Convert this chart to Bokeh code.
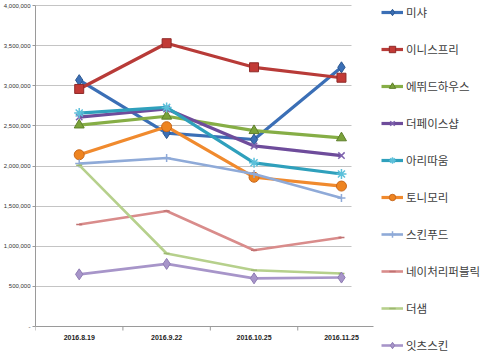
import math
from bokeh.plotting import figure
from bokeh.models import Range1d, FixedTicker, NumeralTickFormatter, Legend, LegendItem, Grid
from bokeh.core.properties import value
from bokeh.embed import file_html
from bokeh.resources import INLINE

dates = ["2016.8.19", "2016.9.22", "2016.10.25", "2016.11.25"]
yticks = [0, 500000, 1000000, 1500000, 2000000, 2500000, 3000000, 3500000, 4000000]

names = ["미샤", "이니스프리", "에뛰드하우스", "더페이스샵", "아리따움",
         "토니모리", "스킨푸드", "네이처리퍼블릭", "더샘", "잇츠스킨"]
missha = [3070000, 2410000, 2330000, 3230000]
innisfree = [2960000, 3530000, 3230000, 3100000]
etude = [2510000, 2620000, 2440000, 2350000]
faceshop = [2610000, 2710000, 2250000, 2130000]
aritaum = [2660000, 2730000, 2040000, 1900000]
tonymoly = [2140000, 2490000, 1860000, 1750000]
skinfood = [2030000, 2100000, 1900000, 1600000]
naturerepublic = [1270000, 1440000, 950000, 1110000]
thesaem = [2010000, 910000, 700000, 660000]
itsskin = [650000, 780000, 600000, 610000]
series = [missha, innisfree, etude, faceshop, aritaum, tonymoly, skinfood,
          naturerepublic, thesaem, itsskin]

styles = [
    dict(color="#3B6FB6", marker="diamond", size=11, lw=3.2, fill="#3B6FB6", line="#2A568F"),
    dict(color="#B83B38", marker="square", size=9, lw=3.2, fill="#C23A36", line="#8E2A28"),
    dict(color="#86AE46", marker="triangle", size=10, lw=3.2, fill="#7AA23A", line="#5E7F2A"),
    dict(color="#6E4C9B", marker="x", size=9, lw=3.2, fill="#6E4C9B", line="#7E62AE"),
    dict(color="#2FA0BC", marker="asterisk", size=10, lw=3.2, fill="#2FA0BC", line="#5CC0DA"),
    dict(color="#F08A2E", marker="circle", size=10, lw=3.2, fill="#EE8420", line="#C8671A"),
    dict(color="#8FAAD8", marker="cross", size=8, lw=2.6, fill="#8FAAD8", line="#8FAAD8"),
    dict(color="#D98C8B", marker="dash", size=6, lw=2.6, fill="#D98C8B", line="#C07272"),
    dict(color="#B6D08C", marker="dash", size=6, lw=2.6, fill="#B6D08C", line="#9DB872"),
    dict(color="#A795C9", marker="diamond", size=11, lw=2.6, fill="#A795C9", line="#8E7BB3"),
]

x = list(range(len(dates)))
bounds_x = [i - 0.5 for i in x]

W, H = 485, 354
left = 32
px_per_unit = 88.0
x_end = -0.5 + (W - left) / px_per_unit
y_top_px, y_zero_px = 5, 326
per_px = yticks[-1] / (y_zero_px - y_top_px)
y_start = -(H - y_zero_px) * per_px
y_end = yticks[-1] + y_top_px * per_px

p = figure(width=W, height=H, output_backend="svg", toolbar_location=None,
           x_range=Range1d(-0.5, x_end), y_range=Range1d(y_start, y_end),
           x_axis_location=None,
           min_border_left=left, min_border_right=0, min_border_top=0, min_border_bottom=0)
p.outline_line_color = None
p.background_fill_color = "white"

# gridlines
p.xgrid.grid_line_color = None
p.ygrid.grid_line_color = "#C4C4C4"
p.ygrid.grid_line_width = 1.2
p.ygrid.ticker = FixedTicker(ticks=yticks[1:])
p.ygrid.cross_bounds = (-0.5, -0.5 + (350 - left) / px_per_unit)

# category (x) axis line, ticks and labels
axis_line = Grid(dimension=1, ticker=FixedTicker(ticks=[0]), grid_line_color="#9A9A9A",
                 grid_line_width=1, cross_bounds=(-0.5, -0.5 + (372 - left) / px_per_unit))
p.add_layout(axis_line)
p.ray(x=bounds_x, y=[0] * len(bounds_x), length=4, length_units="screen",
      angle=-math.pi / 2, line_color="#9A9A9A", line_width=1)
p.text(x=x, y=[0] * len(x), text=dates, y_offset=11, text_align="center",
       text_baseline="middle", text_font=value("Liberation Sans"), text_font_size="7px",
       text_font_style="bold", text_color="#222222")

items = []
for name, vals, st in zip(names, series, styles):
    r1 = p.line(x, vals, line_color=st["color"], line_width=st["lw"])
    r2 = p.scatter(x, vals, marker=st["marker"], size=st["size"], fill_color=st["fill"],
                   line_color=st["line"],
                   line_width=1.5 if st["marker"] in ("x", "asterisk", "cross", "dash") else 1)
    items.append(LegendItem(label=name, renderers=[r1, r2]))

ya = p.yaxis[0]
ya.ticker = FixedTicker(ticks=yticks)
ya.bounds = (yticks[0], yticks[-1])
ya.formatter = NumeralTickFormatter(format="0,0")
ya.major_label_overrides = {0: "-"}
ya.major_tick_out = 3
ya.major_tick_in = 0
ya.minor_tick_out = 0
ya.minor_tick_in = 0
ya.major_tick_line_color = "#9A9A9A"
ya.axis_line_color = "#9A9A9A"
ya.major_label_text_font = "Liberation Sans"
ya.major_label_text_font_size = "6px"
ya.major_label_text_color = "#333333"
ya.major_label_standoff = 2

legend = Legend(items=items, location=(346, 1), padding=0, margin=0,
                spacing=21, glyph_width=22, glyph_height=16, label_height=16,
                label_standoff=3, label_text_font="Noto Sans CJK KR",
                label_text_font_size="11.5px", label_text_color="#404040",
                background_fill_alpha=0, border_line_color=None)
p.add_layout(legend, "center")

open("out.html", "w").write(file_html(p, INLINE))
